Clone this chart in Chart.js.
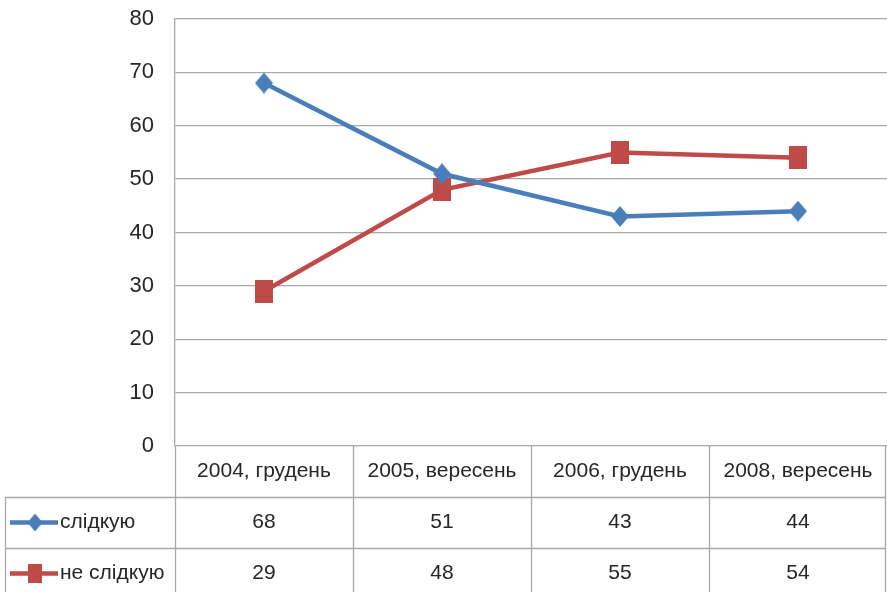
<!DOCTYPE html>
<html>
<head>
<meta charset="utf-8">
<script src="https://cdn.jsdelivr.net/npm/chart.js@4/dist/chart.umd.min.js"></script>
<style>
  html, body { margin: 0; padding: 0; background: #fff; }
  canvas { display: block; }
</style>
</head>
<body>
<canvas id="c" width="887" height="592"></canvas>
<script>
// Survey periods and shares (%)
const categories = ['2004, грудень', '2005, вересень', '2006, грудень', '2008, вересень'];
const seriesNames = ['слідкую', 'не слідкую'];
const follow = [68, 51, 43, 44];
const notFollow = [29, 48, 55, 54];
const yTicks = [0, 10, 20, 30, 40, 50, 60, 70, 80];

const FONT = '"Liberation Sans", Arial, sans-serif';
const FONT_SIZE = 21;
const TICK_SIZE = 22;
const BLUE = '#4a7ebb';
const RED = '#be4b48';
const GRID = '#a8a8a8';
const TEXT = '#262626';

// Slightly tall marker shapes, rendered once and reused as point styles
function makeMarker(kind, color, w, h) {
  const cv = document.createElement('canvas');
  cv.width = w;
  cv.height = h;
  const g = cv.getContext('2d');
  g.fillStyle = color;
  if (kind === 'diamond') {
    g.beginPath();
    g.moveTo(w / 2, 0);
    g.lineTo(w, h / 2);
    g.lineTo(w / 2, h);
    g.lineTo(0, h / 2);
    g.closePath();
    g.fill();
  } else {
    g.fillRect(0, 0, w, h);
  }
  return cv;
}
const diamondMarker = makeMarker('diamond', BLUE, 18, 21);
const squareMarker = makeMarker('square', RED, 18, 23);

// Data table drawn under the plot, aligned to the category scale
const dataTable = {
  id: 'dataTable',
  afterDraw(chart) {
    const ctx = chart.ctx;
    const xs = chart.scales.x;
    const area = chart.chartArea;
    const half = (xs.getPixelForValue(1) - xs.getPixelForValue(0)) / 2;
    const top = area.bottom;
    const rowH = 51;
    const leftEdge = 5;
    const rows = [follow, notFollow];
    const markers = [diamondMarker, squareMarker];
    const colors = [BLUE, RED];
    const bottom = chart.height + 5;

    ctx.save();
    ctx.strokeStyle = GRID;
    ctx.lineWidth = 1.3;
    // vertical separators for each category column
    for (let i = 0; i <= categories.length; i++) {
      let x = Math.round(xs.getPixelForValue(0) - half + i * 2 * half) + 0.5;
      x = Math.min(x, chart.width - 1.5);
      ctx.beginPath();
      ctx.moveTo(x, top);
      ctx.lineTo(x, bottom);
      ctx.stroke();
    }
    // left border of the legend column
    ctx.beginPath();
    ctx.moveTo(leftEdge + 0.5, top + rowH);
    ctx.lineTo(leftEdge + 0.5, bottom);
    ctx.stroke();
    // horizontal row separators
    for (let r = 1; r <= 2; r++) {
      const y = Math.round(top + r * rowH) + 0.5;
      ctx.beginPath();
      ctx.moveTo(leftEdge, y);
      ctx.lineTo(chart.width - 1, y);
      ctx.stroke();
    }

    ctx.font = FONT_SIZE + 'px ' + FONT;
    ctx.fillStyle = TEXT;
    ctx.textAlign = 'center';
    ctx.textBaseline = 'middle';
    categories.forEach((c, i) => {
      ctx.fillText(c, xs.getPixelForValue(i), top + rowH / 2);
    });
    rows.forEach((vals, r) => {
      const cy = top + rowH * (r + 1) + rowH / 2;
      vals.forEach((v, i) => {
        ctx.fillStyle = TEXT;
        ctx.textAlign = 'center';
        ctx.fillText(String(v), xs.getPixelForValue(i), cy);
      });
      // legend key: line with marker
      ctx.strokeStyle = colors[r];
      ctx.lineWidth = 4.5;
      ctx.beginPath();
      ctx.moveTo(10, cy);
      ctx.lineTo(58, cy);
      ctx.stroke();
      const m = markers[r];
      const s = r === 0 ? 0.85 : 0.8;
      ctx.drawImage(m, 35 - m.width * s / 2, cy - m.height * s / 2, m.width * s, m.height * s);
      ctx.fillStyle = TEXT;
      ctx.textAlign = 'left';
      ctx.fillText(seriesNames[r], 60, cy);
    });
    ctx.restore();
  }
};

new Chart(document.getElementById('c'), {
  type: 'line',
  data: {
    labels: categories,
    datasets: [
      {
        label: seriesNames[0],
        data: follow,
        borderColor: BLUE,
        backgroundColor: BLUE,
        borderWidth: 4.5,
        pointStyle: diamondMarker,
        pointRadius: 10,
        tension: 0
      },
      {
        label: seriesNames[1],
        data: notFollow,
        borderColor: RED,
        backgroundColor: RED,
        borderWidth: 4.5,
        pointStyle: squareMarker,
        pointRadius: 11,
        tension: 0
      }
    ]
  },
  options: {
    responsive: false,
    animation: false,
    layout: { autoPadding: false, padding: { top: 19, bottom: 146, left: 0, right: 0 } },
    plugins: {
      legend: { display: false },
      tooltip: { enabled: false },
      title: { display: false }
    },
    scales: {
      x: {
        type: 'category',
        offset: true,
        display: false
      },
      y: {
        min: 0,
        max: 80,
        afterFit(scale) {
          scale.width = 175;
          // labels may overhang the plot edges; the outer padding already leaves room
          scale.paddingTop = 0;
          scale.paddingBottom = 0;
        },
        afterBuildTicks(scale) { scale.ticks = yTicks.map(v => ({ value: v })); },
        ticks: {
          padding: 21,
          color: TEXT,
          font: { family: FONT, size: TICK_SIZE }
        },
        grid: { color: GRID, lineWidth: 1.3, drawTicks: false },
        border: { display: true, color: GRID, width: 1.3 }
      }
    }
  },
  plugins: [dataTable]
});
</script>
</body>
</html>
